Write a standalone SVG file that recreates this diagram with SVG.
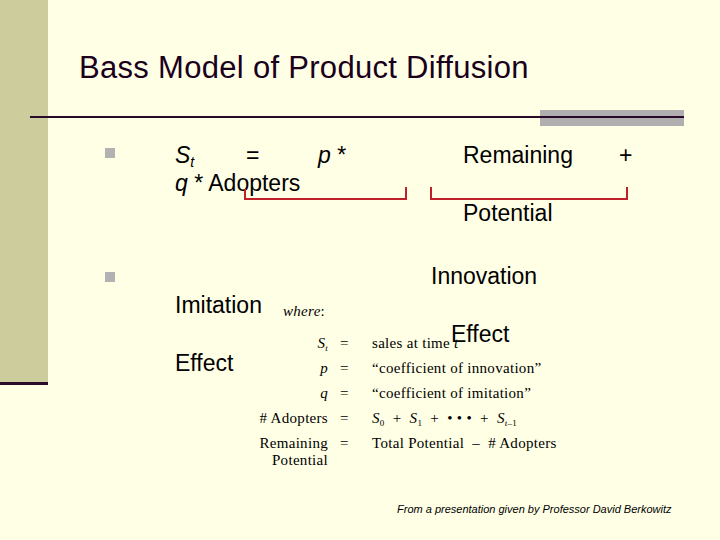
<svg xmlns="http://www.w3.org/2000/svg" width="720" height="540" viewBox="0 0 720 540">
<style>
.s{font-family:"Liberation Sans",Arial,sans-serif;fill:#000}
.t{font-family:"Liberation Serif","Times New Roman",serif;fill:#000;font-size:15px;letter-spacing:0.3px}
.b{fill:#b2b2b2}
.br{fill:none;stroke:#c0202a;stroke-width:2}
</style>
<rect width="720" height="540" fill="#ffffe6"/>
<g id="frame">
<rect x="0" y="0" width="48" height="383" fill="#cccc9c"/>
<rect x="0" y="382" width="48" height="3" fill="#2a0a2a"/>
<rect x="540" y="110" width="144" height="16" fill="#b0aeae"/>
<rect x="30" y="116" width="654" height="2" fill="#2a0a2a"/>
</g>
<g id="title"><text class="s" x="79" y="78" font-size="31" letter-spacing="0.3" style="fill:#1a001a">Bass Model of Product Diffusion</text></g>
<g id="bullets">
<rect class="b" x="105" y="148" width="10" height="10"/>
<rect class="b" x="105" y="272" width="10" height="10"/>
</g>
<g id="formula">
<text class="s" x="175" y="163" font-size="23"><tspan font-style="italic">S</tspan><tspan font-style="italic" font-size="14" dy="4">t</tspan></text>
<text class="s" x="246" y="163" font-size="23">=</text>
<text class="s" x="318" y="163" font-size="23"><tspan font-style="italic">p</tspan>  *</text>
<text class="s" x="463" y="163" font-size="23">Remaining</text>
<text class="s" x="619" y="163" font-size="23">+</text>
<text class="s" x="175" y="191" font-size="23"><tspan font-style="italic">q</tspan>  * Adopters</text>
<text class="s" x="463" y="221" font-size="23">Potential</text>
<text class="s" x="431" y="284" font-size="23">Innovation</text>
<text class="s" x="175" y="313" font-size="23">Imitation</text>
<text class="s" x="451" y="342" font-size="23">Effect</text>
<text class="s" x="175" y="371" font-size="23">Effect</text>
</g>
<g id="connectors">
<polyline class="br" points="245,189 245,199 406,199 406,187"/>
<polyline class="br" points="431,187 431,199 627,199 627,187"/>
</g>
<g id="legend">
<text class="t" x="283" y="316"><tspan font-style="italic">where</tspan>:</text>
<text class="t" x="328" y="348" text-anchor="end"><tspan font-style="italic">S</tspan><tspan font-style="italic" font-size="9" dy="3">t</tspan></text>
<text class="t" x="340" y="348">=</text>
<text class="t" x="372" y="348">sales at time <tspan font-style="italic">t</tspan></text>
<text class="t" x="328" y="373" text-anchor="end" font-style="italic">p</text>
<text class="t" x="340" y="373">=</text>
<text class="t" x="372" y="373">“coefficient of innovation”</text>
<text class="t" x="328" y="398" text-anchor="end" font-style="italic">q</text>
<text class="t" x="340" y="398">=</text>
<text class="t" x="372" y="398">“coefficient of imitation”</text>
<text class="t" x="328" y="423" text-anchor="end"># Adopters</text>
<text class="t" x="340" y="423">=</text>
<text class="t" x="372" y="423" xml:space="preserve"><tspan font-style="italic">S</tspan><tspan font-size="9" dy="3">0</tspan><tspan dy="-3">  +  </tspan><tspan font-style="italic">S</tspan><tspan font-size="9" dy="3">1</tspan><tspan dy="-3">  +  • • •  +  </tspan><tspan font-style="italic">S</tspan><tspan font-size="9" dy="3"><tspan font-style="italic">t</tspan>–1</tspan></text>
<text class="t" x="328" y="448" text-anchor="end">Remaining</text>
<text class="t" x="340" y="448">=</text>
<text class="t" x="372" y="448" xml:space="preserve">Total Potential  –  # Adopters</text>
<text class="t" x="328" y="465" text-anchor="end">Potential</text>
</g>
<g id="footer"><text class="s" x="397" y="513" font-size="11" font-style="italic">From a presentation given by Professor David Berkowitz</text></g>
</svg>
